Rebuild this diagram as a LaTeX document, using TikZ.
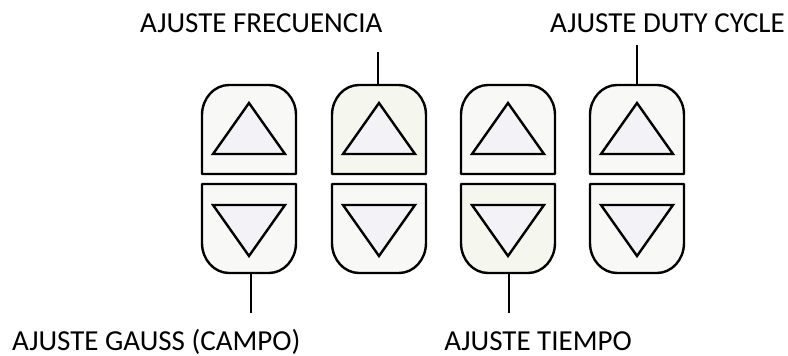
\documentclass[tikz,border=0pt]{standalone}
\usepackage{fontspec}
\setmainfont{Carlito}
\definecolor{keyfill}{HTML}{F8F8F6}
\definecolor{keyfillg}{HTML}{F5F6EE}
\definecolor{arrowfill}{HTML}{F3F3F7}
\begin{document}
\begin{tikzpicture}[x=1pt,y=-1pt,
  keyline/.style={draw=black,line width=2.4pt,line join=round},
  arrowtri/.style={draw=black,line width=2.4pt,fill=arrowfill,line join=miter},
  lead/.style={draw=black,line width=1.6pt},
  lbl/.style={font=\fontsize{29}{35}\selectfont,inner sep=0pt,text=black}]
\useasboundingbox (0,0) rectangle (788,356);
\fill[white] (0,0) rectangle (788,356);

% four pairs of up/down keys
\foreach \c/\n/\fu/\fd in {249/1/keyfill/keyfill,379/2/keyfillg/keyfill,508/3/keyfill/keyfillg,637/4/keyfill/keyfill}{
  % upper key, rounded on top
  \draw[keyline,fill=\fu] (\c-47,174) -- (\c-47,115)
     arc[start angle=180,end angle=90,x radius=27pt,y radius=30pt] -- (\c+20,85)
     arc[start angle=90,end angle=0,x radius=27pt,y radius=30pt] -- (\c+47,174) -- cycle;
  \draw[arrowtri] (\c,103) -- (\c+36,154) -- (\c-36,154) -- cycle;
  % lower key, rounded at the bottom
  \draw[keyline,fill=\fd] (\c-47,184) -- (\c-47,243)
     arc[start angle=180,end angle=270,x radius=27pt,y radius=30pt] -- (\c+20,273)
     arc[start angle=270,end angle=360,x radius=27pt,y radius=30pt] -- (\c+47,184) -- cycle;
  \draw[arrowtri] (\c-36,205) -- (\c+36,205) -- (\c,256) -- cycle;
  \coordinate (top\n) at (\c,85);
  \coordinate (bot\n) at (\c,273);
}

% labels
\node[lbl,anchor=base west] (lfreq) at (140,32) {AJUSTE FRECUENCIA};
\node[lbl,anchor=base west] (lduty) at (550,32) {AJUSTE DUTY CYCLE};
\node[lbl,anchor=base west] (lgauss) at (12,350) {AJUSTE GAUSS (CAMPO)};
\node[lbl,anchor=base east] (ltiempo) at (632,350) {AJUSTE TIEMPO};

% leader lines
\coordinate (efreq) at (378,52);
\coordinate (eduty) at (637,45);
\coordinate (egauss) at (251,313);
\coordinate (etiempo) at (509,313);
\draw[lead] (top2 -| efreq) -- (efreq);
\draw[lead] (top4) -- (eduty);
\draw[lead] (bot1 -| egauss) -- (egauss);
\draw[lead] (bot3 -| etiempo) -- (etiempo);
\end{tikzpicture}
\end{document}
